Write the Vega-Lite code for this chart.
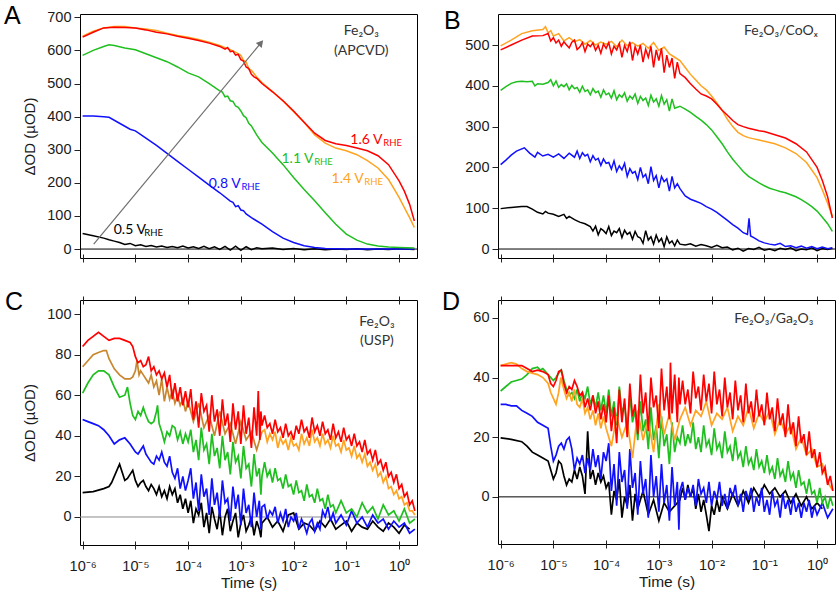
{
"$schema":"https://vega.github.io/schema/vega-lite/v6.json",
"background":"white",
"padding":{"left":3,"top":3,"right":0,"bottom":0},
"bounds":"flush",
"columns":2,
"spacing":{"row":42,"column":81},
"resolve":{"scale":{"x":"independent","y":"independent"}},
"config":{
 "view":{"stroke":"#000","strokeWidth":1},
 "axis":{"grid":false,"domain":false,"labelFont":"Liberation Sans","labelFontSize":14.5,"labelColor":"#1a1a1a","titleFont":"Liberation Sans","titleFontSize":15,"titleFontWeight":"normal","titleColor":"#1a1a1a","tickColor":"#222","tickSize":6,"labelPadding":3,"titlePadding":9},
 "title":{"anchor":"start","frame":"group","font":"Liberation Sans","fontSize":25,"fontWeight":"normal","color":"#000","baseline":"alphabetic"}
},
"datasets":{
"A":[
{"s":"0.5","lt":-6,"v":47},{"s":"0.5","lt":-5.8,"v":40},{"s":"0.5","lt":-5.6,"v":33},{"s":"0.5","lt":-5.5,"v":28},{"s":"0.5","lt":-5.4,"v":24},{"s":"0.5","lt":-5.3,"v":20},{"s":"0.5","lt":-5.2,"v":14},{"s":"0.5","lt":-5.1,"v":17},{"s":"0.5","lt":-5,"v":10},{"s":"0.5","lt":-4.9,"v":13},{"s":"0.5","lt":-4.8,"v":8},{"s":"0.5","lt":-4.7,"v":11},{"s":"0.5","lt":-4.6,"v":6},{"s":"0.5","lt":-4.5,"v":9},{"s":"0.5","lt":-4.4,"v":5},{"s":"0.5","lt":-4.3,"v":8},{"s":"0.5","lt":-4.2,"v":4},{"s":"0.5","lt":-4.1,"v":9},{"s":"0.5","lt":-4,"v":3},{"s":"0.5","lt":-3.9,"v":7},{"s":"0.5","lt":-3.8,"v":2},{"s":"0.5","lt":-3.7,"v":8},{"s":"0.5","lt":-3.6,"v":1},{"s":"0.5","lt":-3.5,"v":7},{"s":"0.5","lt":-3.4,"v":-1},{"s":"0.5","lt":-3.3,"v":8},{"s":"0.5","lt":-3.2,"v":-3},{"s":"0.5","lt":-3.1,"v":9},{"s":"0.5","lt":-3,"v":-4},{"s":"0.5","lt":-2.9,"v":7},{"s":"0.5","lt":-2.8,"v":-2},{"s":"0.5","lt":-2.7,"v":4},{"s":"0.5","lt":-2.6,"v":1},{"s":"0.5","lt":-2.4,"v":3},{"s":"0.5","lt":-2.2,"v":-1},{"s":"0.5","lt":-2,"v":2},{"s":"0.5","lt":-1.8,"v":-2},{"s":"0.5","lt":-1.6,"v":1},{"s":"0.5","lt":-1.4,"v":-2},{"s":"0.5","lt":-1.2,"v":0},{"s":"0.5","lt":-1,"v":-1},{"s":"0.5","lt":-0.8,"v":1},{"s":"0.5","lt":-0.6,"v":-2},{"s":"0.5","lt":-0.4,"v":0},{"s":"0.5","lt":-0.2,"v":-1},{"s":"0.5","lt":0,"v":1},{"s":"0.5","lt":0.29,"v":-1},
{"s":"0.8","lt":-6,"v":402},{"s":"0.8","lt":-5.8,"v":402},{"s":"0.8","lt":-5.6,"v":400},{"s":"0.8","lt":-5.5,"v":398},{"s":"0.8","lt":-5.3,"v":380},{"s":"0.8","lt":-5.1,"v":362},{"s":"0.8","lt":-5,"v":357},{"s":"0.8","lt":-4.8,"v":335},{"s":"0.8","lt":-4.6,"v":313},{"s":"0.8","lt":-4.4,"v":289},{"s":"0.8","lt":-4.2,"v":265},{"s":"0.8","lt":-4,"v":241},{"s":"0.8","lt":-3.8,"v":217},{"s":"0.8","lt":-3.6,"v":193},{"s":"0.8","lt":-3.4,"v":170},{"s":"0.8","lt":-3.2,"v":145},{"s":"0.8","lt":-3.15,"v":141},{"s":"0.8","lt":-3.1,"v":128},{"s":"0.8","lt":-3.05,"v":131},{"s":"0.8","lt":-3,"v":118},{"s":"0.8","lt":-2.95,"v":116},{"s":"0.8","lt":-2.9,"v":106},{"s":"0.8","lt":-2.8,"v":95},{"s":"0.8","lt":-2.6,"v":75},{"s":"0.8","lt":-2.4,"v":53},{"s":"0.8","lt":-2.2,"v":33},{"s":"0.8","lt":-2,"v":20},{"s":"0.8","lt":-1.8,"v":10},{"s":"0.8","lt":-1.6,"v":5},{"s":"0.8","lt":-1.4,"v":2},{"s":"0.8","lt":-1,"v":0},{"s":"0.8","lt":-0.5,"v":0},{"s":"0.8","lt":0,"v":0},{"s":"0.8","lt":0.29,"v":0},
{"s":"1.1","lt":-6,"v":585},{"s":"1.1","lt":-5.8,"v":600},{"s":"1.1","lt":-5.6,"v":612},{"s":"1.1","lt":-5.5,"v":617},{"s":"1.1","lt":-5.4,"v":615},{"s":"1.1","lt":-5.2,"v":607},{"s":"1.1","lt":-5,"v":602},{"s":"1.1","lt":-4.8,"v":590},{"s":"1.1","lt":-4.6,"v":578},{"s":"1.1","lt":-4.4,"v":566},{"s":"1.1","lt":-4.2,"v":550},{"s":"1.1","lt":-4,"v":532},{"s":"1.1","lt":-3.8,"v":520},{"s":"1.1","lt":-3.6,"v":500},{"s":"1.1","lt":-3.4,"v":478},{"s":"1.1","lt":-3.35,"v":474},{"s":"1.1","lt":-3.3,"v":460},{"s":"1.1","lt":-3.25,"v":462},{"s":"1.1","lt":-3.2,"v":448},{"s":"1.1","lt":-3.15,"v":446},{"s":"1.1","lt":-3.1,"v":432},{"s":"1.1","lt":-3.05,"v":428},{"s":"1.1","lt":-3,"v":417},{"s":"1.1","lt":-2.95,"v":403},{"s":"1.1","lt":-2.9,"v":397},{"s":"1.1","lt":-2.85,"v":380},{"s":"1.1","lt":-2.8,"v":372},{"s":"1.1","lt":-2.7,"v":345},{"s":"1.1","lt":-2.6,"v":322},{"s":"1.1","lt":-2.4,"v":290},{"s":"1.1","lt":-2.2,"v":255},{"s":"1.1","lt":-2,"v":216},{"s":"1.1","lt":-1.8,"v":180},{"s":"1.1","lt":-1.6,"v":146},{"s":"1.1","lt":-1.4,"v":110},{"s":"1.1","lt":-1.2,"v":75},{"s":"1.1","lt":-1,"v":45},{"s":"1.1","lt":-0.8,"v":27},{"s":"1.1","lt":-0.6,"v":15},{"s":"1.1","lt":-0.4,"v":9},{"s":"1.1","lt":-0.2,"v":6},{"s":"1.1","lt":0,"v":5},{"s":"1.1","lt":0.29,"v":3},
{"s":"1.4","lt":-6,"v":643},{"s":"1.4","lt":-5.8,"v":658},{"s":"1.4","lt":-5.6,"v":668},{"s":"1.4","lt":-5.4,"v":672},{"s":"1.4","lt":-5.2,"v":672},{"s":"1.4","lt":-5,"v":668},{"s":"1.4","lt":-4.8,"v":665},{"s":"1.4","lt":-4.6,"v":660},{"s":"1.4","lt":-4.4,"v":652},{"s":"1.4","lt":-4.2,"v":645},{"s":"1.4","lt":-4,"v":640},{"s":"1.4","lt":-3.8,"v":633},{"s":"1.4","lt":-3.6,"v":625},{"s":"1.4","lt":-3.4,"v":615},{"s":"1.4","lt":-3.2,"v":602},{"s":"1.4","lt":-3.1,"v":595},{"s":"1.4","lt":-3,"v":585},{"s":"1.4","lt":-2.95,"v":570},{"s":"1.4","lt":-2.9,"v":565},{"s":"1.4","lt":-2.85,"v":545},{"s":"1.4","lt":-2.8,"v":540},{"s":"1.4","lt":-2.7,"v":520},{"s":"1.4","lt":-2.6,"v":503},{"s":"1.4","lt":-2.4,"v":476},{"s":"1.4","lt":-2.2,"v":447},{"s":"1.4","lt":-2,"v":415},{"s":"1.4","lt":-1.8,"v":382},{"s":"1.4","lt":-1.6,"v":345},{"s":"1.4","lt":-1.4,"v":320},{"s":"1.4","lt":-1.2,"v":305},{"s":"1.4","lt":-1,"v":297},{"s":"1.4","lt":-0.8,"v":285},{"s":"1.4","lt":-0.6,"v":267},{"s":"1.4","lt":-0.4,"v":245},{"s":"1.4","lt":-0.2,"v":210},{"s":"1.4","lt":0,"v":156},{"s":"1.4","lt":0.1,"v":125},{"s":"1.4","lt":0.2,"v":95},{"s":"1.4","lt":0.29,"v":65},
{"s":"1.6","lt":-6,"v":640},{"s":"1.6","lt":-5.8,"v":655},{"s":"1.6","lt":-5.6,"v":668},{"s":"1.6","lt":-5.4,"v":670},{"s":"1.6","lt":-5.2,"v":669},{"s":"1.6","lt":-5,"v":668},{"s":"1.6","lt":-4.8,"v":662},{"s":"1.6","lt":-4.6,"v":655},{"s":"1.6","lt":-4.4,"v":650},{"s":"1.6","lt":-4.2,"v":643},{"s":"1.6","lt":-4,"v":637},{"s":"1.6","lt":-3.8,"v":630},{"s":"1.6","lt":-3.6,"v":622},{"s":"1.6","lt":-3.4,"v":612},{"s":"1.6","lt":-3.3,"v":604},{"s":"1.6","lt":-3.25,"v":609},{"s":"1.6","lt":-3.2,"v":596},{"s":"1.6","lt":-3.15,"v":598},{"s":"1.6","lt":-3.1,"v":586},{"s":"1.6","lt":-3.05,"v":588},{"s":"1.6","lt":-3,"v":572},{"s":"1.6","lt":-2.95,"v":568},{"s":"1.6","lt":-2.9,"v":550},{"s":"1.6","lt":-2.85,"v":545},{"s":"1.6","lt":-2.8,"v":528},{"s":"1.6","lt":-2.75,"v":520},{"s":"1.6","lt":-2.7,"v":516},{"s":"1.6","lt":-2.6,"v":500},{"s":"1.6","lt":-2.4,"v":475},{"s":"1.6","lt":-2.2,"v":448},{"s":"1.6","lt":-2,"v":417},{"s":"1.6","lt":-1.8,"v":383},{"s":"1.6","lt":-1.6,"v":350},{"s":"1.6","lt":-1.4,"v":328},{"s":"1.6","lt":-1.2,"v":318},{"s":"1.6","lt":-1,"v":313},{"s":"1.6","lt":-0.8,"v":305},{"s":"1.6","lt":-0.6,"v":297},{"s":"1.6","lt":-0.4,"v":282},{"s":"1.6","lt":-0.2,"v":255},{"s":"1.6","lt":0,"v":206},{"s":"1.6","lt":0.1,"v":175},{"s":"1.6","lt":0.2,"v":135},{"s":"1.6","lt":0.29,"v":85}
],
"labA":[
{"s":"0.5","lt":-5.41,"v":45,"text":"0.5 V"},{"s":"0.8","lt":-3.61,"v":184,"text":"0.8 V"},{"s":"1.1","lt":-2.23,"v":259,"text":"1.1 V"},{"s":"1.4","lt":-1.28,"v":199,"text":"1.4 V"},{"s":"1.6","lt":-0.924,"v":316,"text":"1.6 V"}
],
"subA":[
{"s":"0.5","lt":-4.83,"v":40,"text":"RHE"},{"s":"0.8","lt":-2.99,"v":179,"text":"RHE"},{"s":"1.1","lt":-1.61,"v":254,"text":"RHE"},{"s":"1.4","lt":-0.66,"v":194,"text":"RHE"},{"s":"1.6","lt":-0.3,"v":310,"text":"RHE"}
],
"B":[
{"s":"0.5","lt":-6,"v":99},{"s":"0.5","lt":-5.8,"v":102},{"s":"0.5","lt":-5.6,"v":104},{"s":"0.5","lt":-5.5,"v":104},{"s":"0.5","lt":-5.4,"v":98},{"s":"0.5","lt":-5.3,"v":90},{"s":"0.5","lt":-5.2,"v":86},{"s":"0.5","lt":-5.15,"v":92},{"s":"0.5","lt":-5.1,"v":88},{"s":"0.5","lt":-5,"v":85},{"s":"0.5","lt":-4.9,"v":80},{"s":"0.5","lt":-4.8,"v":85},{"s":"0.5","lt":-4.75,"v":75},{"s":"0.5","lt":-4.7,"v":80},{"s":"0.5","lt":-4.6,"v":72},{"s":"0.5","lt":-4.5,"v":66},{"s":"0.5","lt":-4.4,"v":62},{"s":"0.5","lt":-4.3,"v":55},{"s":"0.5","lt":-4.25,"v":44},{"s":"0.5","lt":-4.2,"v":56},{"s":"0.5","lt":-4.15,"v":35},{"s":"0.5","lt":-4.1,"v":50},{"s":"0.5","lt":-4.05,"v":45},{"s":"0.5","lt":-4,"v":38},{"s":"0.5","lt":-3.95,"v":55},{"s":"0.5","lt":-3.9,"v":33},{"s":"0.5","lt":-3.85,"v":44},{"s":"0.5","lt":-3.8,"v":40},{"s":"0.5","lt":-3.75,"v":50},{"s":"0.5","lt":-3.7,"v":28},{"s":"0.5","lt":-3.65,"v":46},{"s":"0.5","lt":-3.6,"v":36},{"s":"0.5","lt":-3.55,"v":41},{"s":"0.5","lt":-3.5,"v":24},{"s":"0.5","lt":-3.45,"v":43},{"s":"0.5","lt":-3.4,"v":30},{"s":"0.5","lt":-3.35,"v":27},{"s":"0.5","lt":-3.3,"v":14},{"s":"0.5","lt":-3.25,"v":45},{"s":"0.5","lt":-3.2,"v":22},{"s":"0.5","lt":-3.15,"v":30},{"s":"0.5","lt":-3.1,"v":12},{"s":"0.5","lt":-3.05,"v":34},{"s":"0.5","lt":-3,"v":18},{"s":"0.5","lt":-2.95,"v":26},{"s":"0.5","lt":-2.9,"v":6},{"s":"0.5","lt":-2.85,"v":30},{"s":"0.5","lt":-2.8,"v":14},{"s":"0.5","lt":-2.75,"v":20},{"s":"0.5","lt":-2.7,"v":8},{"s":"0.5","lt":-2.65,"v":22},{"s":"0.5","lt":-2.6,"v":12},{"s":"0.5","lt":-2.5,"v":10},{"s":"0.5","lt":-2.4,"v":13},{"s":"0.5","lt":-2.3,"v":7},{"s":"0.5","lt":-2.2,"v":11},{"s":"0.5","lt":-2.1,"v":8},{"s":"0.5","lt":-2,"v":4},{"s":"0.5","lt":-1.9,"v":9},{"s":"0.5","lt":-1.8,"v":3},{"s":"0.5","lt":-1.7,"v":5},{"s":"0.5","lt":-1.6,"v":-2},{"s":"0.5","lt":-1.5,"v":2},{"s":"0.5","lt":-1.4,"v":-5},{"s":"0.5","lt":-1.3,"v":1},{"s":"0.5","lt":-1.2,"v":-1},{"s":"0.5","lt":-1.1,"v":4},{"s":"0.5","lt":-1,"v":-3},{"s":"0.5","lt":-0.9,"v":0},{"s":"0.5","lt":-0.8,"v":-4},{"s":"0.5","lt":-0.7,"v":2},{"s":"0.5","lt":-0.6,"v":-1},{"s":"0.5","lt":-0.5,"v":3},{"s":"0.5","lt":-0.4,"v":-4},{"s":"0.5","lt":-0.3,"v":0},{"s":"0.5","lt":-0.2,"v":-2},{"s":"0.5","lt":-0.1,"v":3},{"s":"0.5","lt":0,"v":-4},{"s":"0.5","lt":0.1,"v":1},{"s":"0.5","lt":0.2,"v":-1},{"s":"0.5","lt":0.29,"v":2},
{"s":"0.8","lt":-6,"v":207},{"s":"0.8","lt":-5.9,"v":218},{"s":"0.8","lt":-5.8,"v":230},{"s":"0.8","lt":-5.7,"v":240},{"s":"0.8","lt":-5.55,"v":248},{"s":"0.8","lt":-5.45,"v":235},{"s":"0.8","lt":-5.35,"v":225},{"s":"0.8","lt":-5.3,"v":237},{"s":"0.8","lt":-5.2,"v":228},{"s":"0.8","lt":-5.1,"v":232},{"s":"0.8","lt":-5,"v":225},{"s":"0.8","lt":-4.9,"v":233},{"s":"0.8","lt":-4.8,"v":222},{"s":"0.8","lt":-4.7,"v":235},{"s":"0.8","lt":-4.6,"v":225},{"s":"0.8","lt":-4.55,"v":240},{"s":"0.8","lt":-4.5,"v":222},{"s":"0.8","lt":-4.45,"v":236},{"s":"0.8","lt":-4.4,"v":228},{"s":"0.8","lt":-4.35,"v":232},{"s":"0.8","lt":-4.3,"v":214},{"s":"0.8","lt":-4.25,"v":229},{"s":"0.8","lt":-4.2,"v":218},{"s":"0.8","lt":-4.15,"v":222},{"s":"0.8","lt":-4.1,"v":205},{"s":"0.8","lt":-4.05,"v":221},{"s":"0.8","lt":-4,"v":210},{"s":"0.8","lt":-3.95,"v":212},{"s":"0.8","lt":-3.9,"v":196},{"s":"0.8","lt":-3.85,"v":216},{"s":"0.8","lt":-3.8,"v":190},{"s":"0.8","lt":-3.75,"v":204},{"s":"0.8","lt":-3.7,"v":194},{"s":"0.8","lt":-3.65,"v":210},{"s":"0.8","lt":-3.6,"v":178},{"s":"0.8","lt":-3.55,"v":197},{"s":"0.8","lt":-3.5,"v":186},{"s":"0.8","lt":-3.45,"v":190},{"s":"0.8","lt":-3.4,"v":170},{"s":"0.8","lt":-3.35,"v":200},{"s":"0.8","lt":-3.3,"v":176},{"s":"0.8","lt":-3.25,"v":183},{"s":"0.8","lt":-3.2,"v":160},{"s":"0.8","lt":-3.15,"v":202},{"s":"0.8","lt":-3.1,"v":168},{"s":"0.8","lt":-3.05,"v":180},{"s":"0.8","lt":-3,"v":150},{"s":"0.8","lt":-2.95,"v":178},{"s":"0.8","lt":-2.9,"v":165},{"s":"0.8","lt":-2.85,"v":172},{"s":"0.8","lt":-2.8,"v":142},{"s":"0.8","lt":-2.75,"v":178},{"s":"0.8","lt":-2.7,"v":150},{"s":"0.8","lt":-2.65,"v":160},{"s":"0.8","lt":-2.6,"v":148},{"s":"0.8","lt":-2.5,"v":130},{"s":"0.8","lt":-2.4,"v":122},{"s":"0.8","lt":-2.3,"v":117},{"s":"0.8","lt":-2.2,"v":112},{"s":"0.8","lt":-2.1,"v":104},{"s":"0.8","lt":-2,"v":98},{"s":"0.8","lt":-1.9,"v":90},{"s":"0.8","lt":-1.8,"v":80},{"s":"0.8","lt":-1.7,"v":70},{"s":"0.8","lt":-1.6,"v":60},{"s":"0.8","lt":-1.5,"v":51},{"s":"0.8","lt":-1.4,"v":40},{"s":"0.8","lt":-1.32,"v":36},{"s":"0.8","lt":-1.29,"v":75},{"s":"0.8","lt":-1.26,"v":32},{"s":"0.8","lt":-1.2,"v":28},{"s":"0.8","lt":-1.1,"v":20},{"s":"0.8","lt":-1,"v":15},{"s":"0.8","lt":-0.9,"v":12},{"s":"0.8","lt":-0.8,"v":10},{"s":"0.8","lt":-0.7,"v":14},{"s":"0.8","lt":-0.6,"v":6},{"s":"0.8","lt":-0.5,"v":8},{"s":"0.8","lt":-0.4,"v":3},{"s":"0.8","lt":-0.3,"v":7},{"s":"0.8","lt":-0.2,"v":2},{"s":"0.8","lt":-0.1,"v":6},{"s":"0.8","lt":0,"v":1},{"s":"0.8","lt":0.1,"v":5},{"s":"0.8","lt":0.2,"v":1},{"s":"0.8","lt":0.29,"v":3},
{"s":"1.1","lt":-6,"v":389},{"s":"1.1","lt":-5.9,"v":398},{"s":"1.1","lt":-5.8,"v":406},{"s":"1.1","lt":-5.7,"v":410},{"s":"1.1","lt":-5.6,"v":411},{"s":"1.1","lt":-5.5,"v":410},{"s":"1.1","lt":-5.4,"v":411},{"s":"1.1","lt":-5.35,"v":400},{"s":"1.1","lt":-5.3,"v":405},{"s":"1.1","lt":-5.2,"v":404},{"s":"1.1","lt":-5.1,"v":408},{"s":"1.1","lt":-5.05,"v":415},{"s":"1.1","lt":-5,"v":400},{"s":"1.1","lt":-4.95,"v":412},{"s":"1.1","lt":-4.9,"v":396},{"s":"1.1","lt":-4.85,"v":403},{"s":"1.1","lt":-4.8,"v":398},{"s":"1.1","lt":-4.75,"v":405},{"s":"1.1","lt":-4.7,"v":390},{"s":"1.1","lt":-4.65,"v":401},{"s":"1.1","lt":-4.6,"v":393},{"s":"1.1","lt":-4.55,"v":396},{"s":"1.1","lt":-4.5,"v":384},{"s":"1.1","lt":-4.45,"v":399},{"s":"1.1","lt":-4.4,"v":386},{"s":"1.1","lt":-4.35,"v":390},{"s":"1.1","lt":-4.3,"v":378},{"s":"1.1","lt":-4.25,"v":393},{"s":"1.1","lt":-4.2,"v":383},{"s":"1.1","lt":-4.15,"v":387},{"s":"1.1","lt":-4.1,"v":372},{"s":"1.1","lt":-4.05,"v":390},{"s":"1.1","lt":-4,"v":378},{"s":"1.1","lt":-3.95,"v":382},{"s":"1.1","lt":-3.9,"v":370},{"s":"1.1","lt":-3.85,"v":388},{"s":"1.1","lt":-3.8,"v":366},{"s":"1.1","lt":-3.75,"v":378},{"s":"1.1","lt":-3.7,"v":372},{"s":"1.1","lt":-3.65,"v":383},{"s":"1.1","lt":-3.6,"v":362},{"s":"1.1","lt":-3.55,"v":375},{"s":"1.1","lt":-3.5,"v":368},{"s":"1.1","lt":-3.45,"v":380},{"s":"1.1","lt":-3.4,"v":357},{"s":"1.1","lt":-3.35,"v":374},{"s":"1.1","lt":-3.3,"v":364},{"s":"1.1","lt":-3.25,"v":370},{"s":"1.1","lt":-3.2,"v":352},{"s":"1.1","lt":-3.15,"v":377},{"s":"1.1","lt":-3.1,"v":360},{"s":"1.1","lt":-3.05,"v":368},{"s":"1.1","lt":-3,"v":350},{"s":"1.1","lt":-2.95,"v":376},{"s":"1.1","lt":-2.9,"v":355},{"s":"1.1","lt":-2.85,"v":366},{"s":"1.1","lt":-2.8,"v":338},{"s":"1.1","lt":-2.75,"v":368},{"s":"1.1","lt":-2.7,"v":345},{"s":"1.1","lt":-2.6,"v":350},{"s":"1.1","lt":-2.5,"v":343},{"s":"1.1","lt":-2.4,"v":335},{"s":"1.1","lt":-2.3,"v":325},{"s":"1.1","lt":-2.2,"v":316},{"s":"1.1","lt":-2.1,"v":305},{"s":"1.1","lt":-2,"v":292},{"s":"1.1","lt":-1.9,"v":275},{"s":"1.1","lt":-1.8,"v":258},{"s":"1.1","lt":-1.7,"v":238},{"s":"1.1","lt":-1.6,"v":220},{"s":"1.1","lt":-1.5,"v":205},{"s":"1.1","lt":-1.4,"v":190},{"s":"1.1","lt":-1.3,"v":178},{"s":"1.1","lt":-1.2,"v":170},{"s":"1.1","lt":-1.1,"v":162},{"s":"1.1","lt":-1,"v":155},{"s":"1.1","lt":-0.9,"v":149},{"s":"1.1","lt":-0.8,"v":145},{"s":"1.1","lt":-0.7,"v":141},{"s":"1.1","lt":-0.6,"v":138},{"s":"1.1","lt":-0.5,"v":133},{"s":"1.1","lt":-0.4,"v":128},{"s":"1.1","lt":-0.3,"v":121},{"s":"1.1","lt":-0.2,"v":113},{"s":"1.1","lt":-0.1,"v":104},{"s":"1.1","lt":0,"v":93},{"s":"1.1","lt":0.1,"v":78},{"s":"1.1","lt":0.2,"v":62},{"s":"1.1","lt":0.29,"v":43},
{"s":"1.4","lt":-6,"v":498},{"s":"1.4","lt":-5.8,"v":512},{"s":"1.4","lt":-5.6,"v":528},{"s":"1.4","lt":-5.4,"v":535},{"s":"1.4","lt":-5.2,"v":538},{"s":"1.4","lt":-5.15,"v":545},{"s":"1.4","lt":-5.1,"v":530},{"s":"1.4","lt":-5.05,"v":535},{"s":"1.4","lt":-5,"v":522},{"s":"1.4","lt":-4.9,"v":528},{"s":"1.4","lt":-4.8,"v":510},{"s":"1.4","lt":-4.7,"v":518},{"s":"1.4","lt":-4.6,"v":508},{"s":"1.4","lt":-4.5,"v":513},{"s":"1.4","lt":-4.4,"v":502},{"s":"1.4","lt":-4.3,"v":511},{"s":"1.4","lt":-4.2,"v":500},{"s":"1.4","lt":-4.1,"v":507},{"s":"1.4","lt":-4,"v":502},{"s":"1.4","lt":-3.9,"v":509},{"s":"1.4","lt":-3.8,"v":496},{"s":"1.4","lt":-3.7,"v":512},{"s":"1.4","lt":-3.6,"v":498},{"s":"1.4","lt":-3.5,"v":506},{"s":"1.4","lt":-3.4,"v":497},{"s":"1.4","lt":-3.3,"v":504},{"s":"1.4","lt":-3.2,"v":492},{"s":"1.4","lt":-3.1,"v":506},{"s":"1.4","lt":-3,"v":487},{"s":"1.4","lt":-2.9,"v":495},{"s":"1.4","lt":-2.8,"v":478},{"s":"1.4","lt":-2.7,"v":470},{"s":"1.4","lt":-2.6,"v":462},{"s":"1.4","lt":-2.5,"v":445},{"s":"1.4","lt":-2.4,"v":428},{"s":"1.4","lt":-2.3,"v":414},{"s":"1.4","lt":-2.2,"v":400},{"s":"1.4","lt":-2.1,"v":390},{"s":"1.4","lt":-2,"v":375},{"s":"1.4","lt":-1.9,"v":358},{"s":"1.4","lt":-1.8,"v":340},{"s":"1.4","lt":-1.7,"v":318},{"s":"1.4","lt":-1.6,"v":300},{"s":"1.4","lt":-1.5,"v":286},{"s":"1.4","lt":-1.4,"v":278},{"s":"1.4","lt":-1.3,"v":273},{"s":"1.4","lt":-1.2,"v":270},{"s":"1.4","lt":-1.1,"v":267},{"s":"1.4","lt":-1,"v":264},{"s":"1.4","lt":-0.8,"v":258},{"s":"1.4","lt":-0.6,"v":248},{"s":"1.4","lt":-0.4,"v":234},{"s":"1.4","lt":-0.2,"v":212},{"s":"1.4","lt":0,"v":175},{"s":"1.4","lt":0.1,"v":145},{"s":"1.4","lt":0.2,"v":112},{"s":"1.4","lt":0.29,"v":80},
{"s":"1.6","lt":-6,"v":488},{"s":"1.6","lt":-5.8,"v":500},{"s":"1.6","lt":-5.6,"v":512},{"s":"1.6","lt":-5.4,"v":522},{"s":"1.6","lt":-5.2,"v":523},{"s":"1.6","lt":-5.1,"v":528},{"s":"1.6","lt":-5.05,"v":510},{"s":"1.6","lt":-5,"v":518},{"s":"1.6","lt":-4.95,"v":505},{"s":"1.6","lt":-4.9,"v":512},{"s":"1.6","lt":-4.85,"v":497},{"s":"1.6","lt":-4.8,"v":508},{"s":"1.6","lt":-4.75,"v":500},{"s":"1.6","lt":-4.7,"v":493},{"s":"1.6","lt":-4.65,"v":507},{"s":"1.6","lt":-4.6,"v":512},{"s":"1.6","lt":-4.55,"v":489},{"s":"1.6","lt":-4.5,"v":495},{"s":"1.6","lt":-4.45,"v":506},{"s":"1.6","lt":-4.4,"v":484},{"s":"1.6","lt":-4.35,"v":502},{"s":"1.6","lt":-4.3,"v":496},{"s":"1.6","lt":-4.25,"v":505},{"s":"1.6","lt":-4.2,"v":487},{"s":"1.6","lt":-4.15,"v":499},{"s":"1.6","lt":-4.1,"v":480},{"s":"1.6","lt":-4.05,"v":503},{"s":"1.6","lt":-4,"v":492},{"s":"1.6","lt":-3.95,"v":506},{"s":"1.6","lt":-3.9,"v":478},{"s":"1.6","lt":-3.85,"v":497},{"s":"1.6","lt":-3.8,"v":488},{"s":"1.6","lt":-3.75,"v":504},{"s":"1.6","lt":-3.7,"v":470},{"s":"1.6","lt":-3.65,"v":499},{"s":"1.6","lt":-3.6,"v":484},{"s":"1.6","lt":-3.55,"v":508},{"s":"1.6","lt":-3.5,"v":462},{"s":"1.6","lt":-3.45,"v":496},{"s":"1.6","lt":-3.4,"v":478},{"s":"1.6","lt":-3.35,"v":500},{"s":"1.6","lt":-3.3,"v":458},{"s":"1.6","lt":-3.25,"v":490},{"s":"1.6","lt":-3.2,"v":470},{"s":"1.6","lt":-3.15,"v":497},{"s":"1.6","lt":-3.1,"v":445},{"s":"1.6","lt":-3.05,"v":488},{"s":"1.6","lt":-3,"v":462},{"s":"1.6","lt":-2.95,"v":492},{"s":"1.6","lt":-2.9,"v":432},{"s":"1.6","lt":-2.85,"v":475},{"s":"1.6","lt":-2.8,"v":445},{"s":"1.6","lt":-2.75,"v":468},{"s":"1.6","lt":-2.7,"v":418},{"s":"1.6","lt":-2.65,"v":458},{"s":"1.6","lt":-2.6,"v":430},{"s":"1.6","lt":-2.5,"v":420},{"s":"1.6","lt":-2.4,"v":405},{"s":"1.6","lt":-2.3,"v":392},{"s":"1.6","lt":-2.2,"v":380},{"s":"1.6","lt":-2.1,"v":375},{"s":"1.6","lt":-2,"v":368},{"s":"1.6","lt":-1.9,"v":355},{"s":"1.6","lt":-1.8,"v":340},{"s":"1.6","lt":-1.7,"v":328},{"s":"1.6","lt":-1.6,"v":315},{"s":"1.6","lt":-1.5,"v":305},{"s":"1.6","lt":-1.4,"v":300},{"s":"1.6","lt":-1.3,"v":296},{"s":"1.6","lt":-1.2,"v":293},{"s":"1.6","lt":-1.1,"v":290},{"s":"1.6","lt":-1,"v":288},{"s":"1.6","lt":-0.8,"v":280},{"s":"1.6","lt":-0.6,"v":272},{"s":"1.6","lt":-0.4,"v":258},{"s":"1.6","lt":-0.2,"v":238},{"s":"1.6","lt":0,"v":200},{"s":"1.6","lt":0.1,"v":168},{"s":"1.6","lt":0.2,"v":128},{"s":"1.6","lt":0.29,"v":76}
],
"C":[
{"s":"0.5","lt":-6,"v":12},{"s":"0.5","lt":-5.8,"v":12.5},{"s":"0.5","lt":-5.6,"v":14},{"s":"0.5","lt":-5.5,"v":15},{"s":"0.5","lt":-5.45,"v":17},{"s":"0.5","lt":-5.4,"v":20},{"s":"0.5","lt":-5.3,"v":26},{"s":"0.5","lt":-5.25,"v":22},{"s":"0.5","lt":-5.2,"v":18},{"s":"0.5","lt":-5.15,"v":19},{"s":"0.5","lt":-5.1,"v":21},{"s":"0.5","lt":-5.05,"v":23},{"s":"0.5","lt":-5,"v":18},{"s":"0.5","lt":-4.95,"v":15},{"s":"0.5","lt":-4.9,"v":17},{"s":"0.5","lt":-4.85,"v":18},{"s":"0.5","lt":-4.8,"v":15},{"s":"0.5","lt":-4.75,"v":13},{"s":"0.5","lt":-4.7,"v":16},{"s":"0.5","lt":-4.65,"v":14},{"s":"0.5","lt":-4.6,"v":11},{"s":"0.5","lt":-4.55,"v":15},{"s":"0.5","lt":-4.5,"v":10},{"s":"0.5","lt":-4.45,"v":13},{"s":"0.5","lt":-4.4,"v":9},{"s":"0.5","lt":-4.35,"v":15},{"s":"0.5","lt":-4.3,"v":11},{"s":"0.5","lt":-4.25,"v":14},{"s":"0.5","lt":-4.2,"v":7},{"s":"0.5","lt":-4.15,"v":11},{"s":"0.5","lt":-4.1,"v":4},{"s":"0.5","lt":-4.05,"v":9},{"s":"0.5","lt":-4,"v":2},{"s":"0.5","lt":-3.95,"v":8},{"s":"0.5","lt":-3.9,"v":-3},{"s":"0.5","lt":-3.85,"v":4},{"s":"0.5","lt":-3.8,"v":1},{"s":"0.5","lt":-3.75,"v":7},{"s":"0.5","lt":-3.7,"v":-5},{"s":"0.5","lt":-3.65,"v":2},{"s":"0.5","lt":-3.6,"v":-8},{"s":"0.5","lt":-3.55,"v":5},{"s":"0.5","lt":-3.5,"v":-1},{"s":"0.5","lt":-3.45,"v":-6},{"s":"0.5","lt":-3.4,"v":3},{"s":"0.5","lt":-3.35,"v":-9},{"s":"0.5","lt":-3.3,"v":0},{"s":"0.5","lt":-3.25,"v":4},{"s":"0.5","lt":-3.2,"v":-7},{"s":"0.5","lt":-3.15,"v":-2},{"s":"0.5","lt":-3.1,"v":2},{"s":"0.5","lt":-3.05,"v":-10},{"s":"0.5","lt":-3,"v":-3},{"s":"0.5","lt":-2.95,"v":1},{"s":"0.5","lt":-2.9,"v":-7},{"s":"0.5","lt":-2.85,"v":-4},{"s":"0.5","lt":-2.8,"v":0},{"s":"0.5","lt":-2.75,"v":-9},{"s":"0.5","lt":-2.7,"v":-2},{"s":"0.5","lt":-2.65,"v":-6},{"s":"0.5","lt":-2.62,"v":-10},{"s":"0.5","lt":-2.6,"v":-3},{"s":"0.5","lt":-2.5,"v":0},{"s":"0.5","lt":-2.4,"v":-5},{"s":"0.5","lt":-2.3,"v":-2},{"s":"0.5","lt":-2.2,"v":-7},{"s":"0.5","lt":-2.1,"v":1},{"s":"0.5","lt":-2,"v":2},{"s":"0.5","lt":-1.9,"v":-6},{"s":"0.5","lt":-1.8,"v":-3},{"s":"0.5","lt":-1.7,"v":-4},{"s":"0.5","lt":-1.6,"v":-7},{"s":"0.5","lt":-1.5,"v":-2},{"s":"0.5","lt":-1.4,"v":-5},{"s":"0.5","lt":-1.3,"v":-1},{"s":"0.5","lt":-1.2,"v":-6},{"s":"0.5","lt":-1.1,"v":-4},{"s":"0.5","lt":-1,"v":-2},{"s":"0.5","lt":-0.9,"v":-7},{"s":"0.5","lt":-0.8,"v":-3},{"s":"0.5","lt":-0.7,"v":-5},{"s":"0.5","lt":-0.6,"v":-6},{"s":"0.5","lt":-0.5,"v":-2},{"s":"0.5","lt":-0.4,"v":-5},{"s":"0.5","lt":-0.3,"v":-7},{"s":"0.5","lt":-0.2,"v":-3},{"s":"0.5","lt":-0.1,"v":-5},{"s":"0.5","lt":0,"v":-8},{"s":"0.5","lt":0.1,"v":-4},{"s":"0.5","lt":0.2,"v":-6},
{"s":"0.8","lt":-6,"v":48},{"s":"0.8","lt":-5.9,"v":47},{"s":"0.8","lt":-5.8,"v":46},{"s":"0.8","lt":-5.7,"v":45},{"s":"0.8","lt":-5.6,"v":43},{"s":"0.8","lt":-5.5,"v":40},{"s":"0.8","lt":-5.4,"v":36},{"s":"0.8","lt":-5.3,"v":38},{"s":"0.8","lt":-5.2,"v":39},{"s":"0.8","lt":-5.1,"v":36},{"s":"0.8","lt":-5,"v":32},{"s":"0.8","lt":-4.95,"v":31},{"s":"0.8","lt":-4.9,"v":33},{"s":"0.8","lt":-4.85,"v":35},{"s":"0.8","lt":-4.8,"v":31},{"s":"0.8","lt":-4.75,"v":29},{"s":"0.8","lt":-4.7,"v":27},{"s":"0.8","lt":-4.65,"v":26},{"s":"0.8","lt":-4.6,"v":30},{"s":"0.8","lt":-4.55,"v":28},{"s":"0.8","lt":-4.5,"v":32},{"s":"0.8","lt":-4.45,"v":27},{"s":"0.8","lt":-4.4,"v":25},{"s":"0.8","lt":-4.35,"v":30},{"s":"0.8","lt":-4.3,"v":22},{"s":"0.8","lt":-4.25,"v":19},{"s":"0.8","lt":-4.2,"v":24},{"s":"0.8","lt":-4.15,"v":14},{"s":"0.8","lt":-4.1,"v":20},{"s":"0.8","lt":-4.05,"v":13},{"s":"0.8","lt":-4,"v":18},{"s":"0.8","lt":-3.95,"v":24},{"s":"0.8","lt":-3.9,"v":9},{"s":"0.8","lt":-3.85,"v":17},{"s":"0.8","lt":-3.8,"v":3},{"s":"0.8","lt":-3.75,"v":21},{"s":"0.8","lt":-3.7,"v":10},{"s":"0.8","lt":-3.65,"v":14},{"s":"0.8","lt":-3.6,"v":1},{"s":"0.8","lt":-3.55,"v":19},{"s":"0.8","lt":-3.5,"v":6},{"s":"0.8","lt":-3.45,"v":12},{"s":"0.8","lt":-3.4,"v":0},{"s":"0.8","lt":-3.35,"v":18},{"s":"0.8","lt":-3.3,"v":7},{"s":"0.8","lt":-3.25,"v":9},{"s":"0.8","lt":-3.2,"v":-2},{"s":"0.8","lt":-3.15,"v":15},{"s":"0.8","lt":-3.1,"v":4},{"s":"0.8","lt":-3.05,"v":11},{"s":"0.8","lt":-3,"v":-4},{"s":"0.8","lt":-2.95,"v":14},{"s":"0.8","lt":-2.9,"v":2},{"s":"0.8","lt":-2.85,"v":6},{"s":"0.8","lt":-2.8,"v":-5},{"s":"0.8","lt":-2.75,"v":12},{"s":"0.8","lt":-2.7,"v":0},{"s":"0.8","lt":-2.65,"v":8},{"s":"0.8","lt":-2.62,"v":-6},{"s":"0.8","lt":-2.6,"v":5},{"s":"0.8","lt":-2.55,"v":6},{"s":"0.8","lt":-2.5,"v":-1},{"s":"0.8","lt":-2.45,"v":3},{"s":"0.8","lt":-2.4,"v":1},{"s":"0.8","lt":-2.35,"v":5},{"s":"0.8","lt":-2.3,"v":-3},{"s":"0.8","lt":-2.25,"v":2},{"s":"0.8","lt":-2.2,"v":-2},{"s":"0.8","lt":-2.15,"v":4},{"s":"0.8","lt":-2.1,"v":-5},{"s":"0.8","lt":-2.05,"v":0},{"s":"0.8","lt":-2,"v":-2},{"s":"0.8","lt":-1.95,"v":2},{"s":"0.8","lt":-1.9,"v":-6},{"s":"0.8","lt":-1.85,"v":-1},{"s":"0.8","lt":-1.8,"v":-4},{"s":"0.8","lt":-1.75,"v":-8},{"s":"0.8","lt":-1.7,"v":-3},{"s":"0.8","lt":-1.65,"v":-1},{"s":"0.8","lt":-1.6,"v":-7},{"s":"0.8","lt":-1.55,"v":-3},{"s":"0.8","lt":-1.5,"v":-6},{"s":"0.8","lt":-1.45,"v":3},{"s":"0.8","lt":-1.4,"v":0},{"s":"0.8","lt":-1.35,"v":5},{"s":"0.8","lt":-1.3,"v":-2},{"s":"0.8","lt":-1.25,"v":2},{"s":"0.8","lt":-1.2,"v":-3},{"s":"0.8","lt":-1.1,"v":1},{"s":"0.8","lt":-1,"v":-4},{"s":"0.8","lt":-0.9,"v":3},{"s":"0.8","lt":-0.8,"v":-3},{"s":"0.8","lt":-0.7,"v":0},{"s":"0.8","lt":-0.6,"v":-5},{"s":"0.8","lt":-0.5,"v":1},{"s":"0.8","lt":-0.4,"v":-3},{"s":"0.8","lt":-0.3,"v":-1},{"s":"0.8","lt":-0.2,"v":-6},{"s":"0.8","lt":-0.1,"v":-2},{"s":"0.8","lt":0,"v":-5},{"s":"0.8","lt":0.1,"v":-3},{"s":"0.8","lt":0.2,"v":-8},{"s":"0.8","lt":0.3,"v":-6},
{"s":"1.1","lt":-6,"v":61},{"s":"1.1","lt":-5.9,"v":66},{"s":"1.1","lt":-5.8,"v":70},{"s":"1.1","lt":-5.7,"v":72},{"s":"1.1","lt":-5.6,"v":72},{"s":"1.1","lt":-5.5,"v":70},{"s":"1.1","lt":-5.4,"v":64},{"s":"1.1","lt":-5.3,"v":59},{"s":"1.1","lt":-5.2,"v":60},{"s":"1.1","lt":-5.15,"v":64},{"s":"1.1","lt":-5.1,"v":56},{"s":"1.1","lt":-5.05,"v":50},{"s":"1.1","lt":-5,"v":48},{"s":"1.1","lt":-4.95,"v":52},{"s":"1.1","lt":-4.9,"v":50},{"s":"1.1","lt":-4.85,"v":54},{"s":"1.1","lt":-4.8,"v":50},{"s":"1.1","lt":-4.75,"v":47},{"s":"1.1","lt":-4.7,"v":46},{"s":"1.1","lt":-4.65,"v":47},{"s":"1.1","lt":-4.6,"v":52},{"s":"1.1","lt":-4.58,"v":55},{"s":"1.1","lt":-4.55,"v":46},{"s":"1.1","lt":-4.5,"v":42},{"s":"1.1","lt":-4.45,"v":37},{"s":"1.1","lt":-4.4,"v":42},{"s":"1.1","lt":-4.35,"v":40},{"s":"1.1","lt":-4.3,"v":45},{"s":"1.1","lt":-4.25,"v":44},{"s":"1.1","lt":-4.2,"v":38},{"s":"1.1","lt":-4.15,"v":42},{"s":"1.1","lt":-4.1,"v":36},{"s":"1.1","lt":-4.05,"v":41},{"s":"1.1","lt":-4,"v":37},{"s":"1.1","lt":-3.95,"v":43},{"s":"1.1","lt":-3.9,"v":32},{"s":"1.1","lt":-3.85,"v":38},{"s":"1.1","lt":-3.8,"v":28},{"s":"1.1","lt":-3.75,"v":44},{"s":"1.1","lt":-3.7,"v":33},{"s":"1.1","lt":-3.65,"v":36},{"s":"1.1","lt":-3.6,"v":26},{"s":"1.1","lt":-3.55,"v":41},{"s":"1.1","lt":-3.5,"v":30},{"s":"1.1","lt":-3.45,"v":34},{"s":"1.1","lt":-3.4,"v":24},{"s":"1.1","lt":-3.35,"v":40},{"s":"1.1","lt":-3.3,"v":28},{"s":"1.1","lt":-3.25,"v":32},{"s":"1.1","lt":-3.2,"v":21},{"s":"1.1","lt":-3.15,"v":37},{"s":"1.1","lt":-3.1,"v":27},{"s":"1.1","lt":-3.05,"v":30},{"s":"1.1","lt":-3,"v":19},{"s":"1.1","lt":-2.95,"v":35},{"s":"1.1","lt":-2.9,"v":24},{"s":"1.1","lt":-2.85,"v":26},{"s":"1.1","lt":-2.8,"v":15},{"s":"1.1","lt":-2.75,"v":31},{"s":"1.1","lt":-2.7,"v":20},{"s":"1.1","lt":-2.65,"v":24},{"s":"1.1","lt":-2.62,"v":11},{"s":"1.1","lt":-2.6,"v":20},{"s":"1.1","lt":-2.55,"v":27},{"s":"1.1","lt":-2.5,"v":20},{"s":"1.1","lt":-2.45,"v":23},{"s":"1.1","lt":-2.4,"v":17},{"s":"1.1","lt":-2.35,"v":24},{"s":"1.1","lt":-2.3,"v":18},{"s":"1.1","lt":-2.25,"v":19},{"s":"1.1","lt":-2.2,"v":14},{"s":"1.1","lt":-2.15,"v":21},{"s":"1.1","lt":-2.1,"v":15},{"s":"1.1","lt":-2.05,"v":16},{"s":"1.1","lt":-2,"v":11},{"s":"1.1","lt":-1.95,"v":18},{"s":"1.1","lt":-1.9,"v":12},{"s":"1.1","lt":-1.85,"v":13},{"s":"1.1","lt":-1.8,"v":8},{"s":"1.1","lt":-1.75,"v":16},{"s":"1.1","lt":-1.7,"v":10},{"s":"1.1","lt":-1.65,"v":11},{"s":"1.1","lt":-1.6,"v":7},{"s":"1.1","lt":-1.55,"v":14},{"s":"1.1","lt":-1.5,"v":8},{"s":"1.1","lt":-1.45,"v":9},{"s":"1.1","lt":-1.4,"v":4},{"s":"1.1","lt":-1.35,"v":11},{"s":"1.1","lt":-1.3,"v":5},{"s":"1.1","lt":-1.25,"v":6},{"s":"1.1","lt":-1.2,"v":2},{"s":"1.1","lt":-1.1,"v":8},{"s":"1.1","lt":-1,"v":2},{"s":"1.1","lt":-0.9,"v":4},{"s":"1.1","lt":-0.8,"v":0},{"s":"1.1","lt":-0.7,"v":7},{"s":"1.1","lt":-0.6,"v":2},{"s":"1.1","lt":-0.5,"v":5},{"s":"1.1","lt":-0.4,"v":-1},{"s":"1.1","lt":-0.3,"v":6},{"s":"1.1","lt":-0.2,"v":1},{"s":"1.1","lt":-0.1,"v":3},{"s":"1.1","lt":0,"v":-2},{"s":"1.1","lt":0.1,"v":4},{"s":"1.1","lt":0.2,"v":-3},{"s":"1.1","lt":0.3,"v":-1},
{"s":"1.4e","lt":-6,"v":74},{"s":"1.4e","lt":-5.9,"v":77},{"s":"1.4e","lt":-5.8,"v":80},{"s":"1.4e","lt":-5.7,"v":81},{"s":"1.4e","lt":-5.6,"v":82},{"s":"1.4e","lt":-5.55,"v":82},{"s":"1.4e","lt":-5.5,"v":78},{"s":"1.4e","lt":-5.4,"v":73},{"s":"1.4e","lt":-5.3,"v":70},{"s":"1.4e","lt":-5.2,"v":68},{"s":"1.4e","lt":-5.1,"v":68},{"s":"1.4e","lt":-5.05,"v":69},{"s":"1.4e","lt":-5,"v":72},{"s":"1.4e","lt":-4.97,"v":77},{"s":"1.4e","lt":-4.93,"v":70},{"s":"1.4e","lt":-4.9,"v":72},{"s":"1.4e","lt":-4.85,"v":70},{"s":"1.4e","lt":-4.8,"v":68},{"s":"1.4e","lt":-4.75,"v":66},{"s":"1.4e","lt":-4.7,"v":70},{"s":"1.4e","lt":-4.65,"v":64},{"s":"1.4e","lt":-4.6,"v":67},{"s":"1.4e","lt":-4.55,"v":60},{"s":"1.4e","lt":-4.5,"v":68},{"s":"1.4e","lt":-4.45,"v":57},{"s":"1.4e","lt":-4.4,"v":64},{"s":"1.4e","lt":-4.35,"v":58},{"s":"1.4e","lt":-4.3,"v":62},{"s":"1.4e","lt":-4.25,"v":56},{"s":"1.4e","lt":-4.2,"v":60},{"s":"1.4e","lt":-4.15,"v":55},{"s":"1.4e","lt":-4.1,"v":58},{"s":"1.4e","lt":-4.05,"v":52},{"s":"1.4e","lt":-4,"v":57},{"s":"1.4e","lt":-3.9,"v":47},{"s":"1.4e","lt":-3.8,"v":56},{"s":"1.4e","lt":-3.7,"v":44},{"s":"1.4e","lt":-3.6,"v":50},{"s":"1.4e","lt":-3.5,"v":40},{"s":"1.4e","lt":-3.4,"v":52},{"s":"1.4e","lt":-3.3,"v":41},{"s":"1.4e","lt":-3.2,"v":46},{"s":"1.4e","lt":-3.1,"v":36},{"s":"1.4e","lt":-3,"v":47},{"s":"1.4e","lt":-2.9,"v":38},{"s":"1.4e","lt":-2.8,"v":42},{"s":"1.4e","lt":-2.7,"v":33},{"s":"1.4e","lt":-2.6,"v":42},
{"s":"1.4","lt":-2.6,"v":42},{"s":"1.4","lt":-2.55,"v":43},{"s":"1.4","lt":-2.5,"v":37},{"s":"1.4","lt":-2.45,"v":41},{"s":"1.4","lt":-2.4,"v":38},{"s":"1.4","lt":-2.35,"v":42},{"s":"1.4","lt":-2.3,"v":34},{"s":"1.4","lt":-2.25,"v":39},{"s":"1.4","lt":-2.2,"v":36},{"s":"1.4","lt":-2.15,"v":38},{"s":"1.4","lt":-2.1,"v":33},{"s":"1.4","lt":-2.05,"v":39},{"s":"1.4","lt":-2,"v":35},{"s":"1.4","lt":-1.95,"v":36},{"s":"1.4","lt":-1.9,"v":33},{"s":"1.4","lt":-1.85,"v":41},{"s":"1.4","lt":-1.8,"v":36},{"s":"1.4","lt":-1.75,"v":39},{"s":"1.4","lt":-1.7,"v":35},{"s":"1.4","lt":-1.65,"v":43},{"s":"1.4","lt":-1.6,"v":37},{"s":"1.4","lt":-1.55,"v":39},{"s":"1.4","lt":-1.5,"v":35},{"s":"1.4","lt":-1.45,"v":41},{"s":"1.4","lt":-1.4,"v":36},{"s":"1.4","lt":-1.35,"v":38},{"s":"1.4","lt":-1.3,"v":34},{"s":"1.4","lt":-1.25,"v":40},{"s":"1.4","lt":-1.2,"v":35},{"s":"1.4","lt":-1.15,"v":36},{"s":"1.4","lt":-1.1,"v":32},{"s":"1.4","lt":-1.05,"v":38},{"s":"1.4","lt":-1,"v":33},{"s":"1.4","lt":-0.95,"v":34},{"s":"1.4","lt":-0.9,"v":30},{"s":"1.4","lt":-0.85,"v":35},{"s":"1.4","lt":-0.8,"v":29},{"s":"1.4","lt":-0.75,"v":31},{"s":"1.4","lt":-0.7,"v":27},{"s":"1.4","lt":-0.65,"v":31},{"s":"1.4","lt":-0.6,"v":25},{"s":"1.4","lt":-0.55,"v":27},{"s":"1.4","lt":-0.5,"v":23},{"s":"1.4","lt":-0.45,"v":26},{"s":"1.4","lt":-0.4,"v":20},{"s":"1.4","lt":-0.35,"v":22},{"s":"1.4","lt":-0.3,"v":17},{"s":"1.4","lt":-0.25,"v":20},{"s":"1.4","lt":-0.2,"v":14},{"s":"1.4","lt":-0.15,"v":15},{"s":"1.4","lt":-0.1,"v":11},{"s":"1.4","lt":-0.05,"v":13},{"s":"1.4","lt":0,"v":9},{"s":"1.4","lt":0.05,"v":10},{"s":"1.4","lt":0.1,"v":6},{"s":"1.4","lt":0.15,"v":7},{"s":"1.4","lt":0.2,"v":3},{"s":"1.4","lt":0.25,"v":3},{"s":"1.4","lt":0.3,"v":1},
{"s":"1.6","lt":-6,"v":84},{"s":"1.6","lt":-5.9,"v":87},{"s":"1.6","lt":-5.8,"v":89},{"s":"1.6","lt":-5.7,"v":91},{"s":"1.6","lt":-5.6,"v":89},{"s":"1.6","lt":-5.5,"v":87},{"s":"1.6","lt":-5.4,"v":88},{"s":"1.6","lt":-5.3,"v":88},{"s":"1.6","lt":-5.2,"v":87},{"s":"1.6","lt":-5.1,"v":86},{"s":"1.6","lt":-5.05,"v":84},{"s":"1.6","lt":-5,"v":79},{"s":"1.6","lt":-4.95,"v":76},{"s":"1.6","lt":-4.9,"v":77},{"s":"1.6","lt":-4.85,"v":74},{"s":"1.6","lt":-4.8,"v":75},{"s":"1.6","lt":-4.75,"v":79},{"s":"1.6","lt":-4.7,"v":72},{"s":"1.6","lt":-4.65,"v":74},{"s":"1.6","lt":-4.6,"v":70},{"s":"1.6","lt":-4.55,"v":72},{"s":"1.6","lt":-4.5,"v":68},{"s":"1.6","lt":-4.45,"v":71},{"s":"1.6","lt":-4.4,"v":64},{"s":"1.6","lt":-4.35,"v":70},{"s":"1.6","lt":-4.3,"v":58},{"s":"1.6","lt":-4.25,"v":66},{"s":"1.6","lt":-4.2,"v":57},{"s":"1.6","lt":-4.15,"v":64},{"s":"1.6","lt":-4.1,"v":55},{"s":"1.6","lt":-4.05,"v":62},{"s":"1.6","lt":-4,"v":54},{"s":"1.6","lt":-3.95,"v":63},{"s":"1.6","lt":-3.9,"v":48},{"s":"1.6","lt":-3.85,"v":57},{"s":"1.6","lt":-3.8,"v":44},{"s":"1.6","lt":-3.75,"v":61},{"s":"1.6","lt":-3.7,"v":52},{"s":"1.6","lt":-3.65,"v":55},{"s":"1.6","lt":-3.6,"v":42},{"s":"1.6","lt":-3.55,"v":60},{"s":"1.6","lt":-3.5,"v":47},{"s":"1.6","lt":-3.45,"v":53},{"s":"1.6","lt":-3.4,"v":40},{"s":"1.6","lt":-3.35,"v":58},{"s":"1.6","lt":-3.3,"v":45},{"s":"1.6","lt":-3.25,"v":51},{"s":"1.6","lt":-3.2,"v":37},{"s":"1.6","lt":-3.15,"v":56},{"s":"1.6","lt":-3.1,"v":43},{"s":"1.6","lt":-3.05,"v":52},{"s":"1.6","lt":-3,"v":36},{"s":"1.6","lt":-2.95,"v":55},{"s":"1.6","lt":-2.9,"v":41},{"s":"1.6","lt":-2.85,"v":49},{"s":"1.6","lt":-2.8,"v":34},{"s":"1.6","lt":-2.75,"v":54},{"s":"1.6","lt":-2.7,"v":40},{"s":"1.6","lt":-2.67,"v":62},{"s":"1.6","lt":-2.64,"v":38},{"s":"1.6","lt":-2.62,"v":52},{"s":"1.6","lt":-2.6,"v":45},{"s":"1.6","lt":-2.55,"v":50},{"s":"1.6","lt":-2.5,"v":44},{"s":"1.6","lt":-2.45,"v":46},{"s":"1.6","lt":-2.4,"v":41},{"s":"1.6","lt":-2.35,"v":48},{"s":"1.6","lt":-2.3,"v":42},{"s":"1.6","lt":-2.25,"v":44},{"s":"1.6","lt":-2.2,"v":39},{"s":"1.6","lt":-2.15,"v":46},{"s":"1.6","lt":-2.1,"v":40},{"s":"1.6","lt":-2.05,"v":42},{"s":"1.6","lt":-2,"v":38},{"s":"1.6","lt":-1.95,"v":45},{"s":"1.6","lt":-1.9,"v":41},{"s":"1.6","lt":-1.85,"v":48},{"s":"1.6","lt":-1.8,"v":42},{"s":"1.6","lt":-1.75,"v":44},{"s":"1.6","lt":-1.7,"v":39},{"s":"1.6","lt":-1.65,"v":49},{"s":"1.6","lt":-1.6,"v":42},{"s":"1.6","lt":-1.55,"v":45},{"s":"1.6","lt":-1.5,"v":40},{"s":"1.6","lt":-1.45,"v":47},{"s":"1.6","lt":-1.4,"v":41},{"s":"1.6","lt":-1.35,"v":43},{"s":"1.6","lt":-1.3,"v":38},{"s":"1.6","lt":-1.25,"v":46},{"s":"1.6","lt":-1.2,"v":39},{"s":"1.6","lt":-1.15,"v":42},{"s":"1.6","lt":-1.1,"v":37},{"s":"1.6","lt":-1.05,"v":44},{"s":"1.6","lt":-1,"v":38},{"s":"1.6","lt":-0.95,"v":40},{"s":"1.6","lt":-0.9,"v":35},{"s":"1.6","lt":-0.85,"v":41},{"s":"1.6","lt":-0.8,"v":35},{"s":"1.6","lt":-0.75,"v":37},{"s":"1.6","lt":-0.7,"v":32},{"s":"1.6","lt":-0.65,"v":38},{"s":"1.6","lt":-0.6,"v":31},{"s":"1.6","lt":-0.55,"v":33},{"s":"1.6","lt":-0.5,"v":28},{"s":"1.6","lt":-0.45,"v":33},{"s":"1.6","lt":-0.4,"v":26},{"s":"1.6","lt":-0.35,"v":28},{"s":"1.6","lt":-0.3,"v":23},{"s":"1.6","lt":-0.25,"v":27},{"s":"1.6","lt":-0.2,"v":20},{"s":"1.6","lt":-0.15,"v":22},{"s":"1.6","lt":-0.1,"v":17},{"s":"1.6","lt":-0.05,"v":21},{"s":"1.6","lt":0,"v":14},{"s":"1.6","lt":0.05,"v":16},{"s":"1.6","lt":0.1,"v":10},{"s":"1.6","lt":0.15,"v":12},{"s":"1.6","lt":0.2,"v":6},{"s":"1.6","lt":0.25,"v":8},{"s":"1.6","lt":0.3,"v":3}
],
"D":[
{"s":"0.5","lt":-6,"v":19.8},{"s":"0.5","lt":-5.8,"v":19.3},{"s":"0.5","lt":-5.6,"v":18.5},{"s":"0.5","lt":-5.5,"v":17},{"s":"0.5","lt":-5.4,"v":15},{"s":"0.5","lt":-5.3,"v":14},{"s":"0.5","lt":-5.2,"v":13},{"s":"0.5","lt":-5.1,"v":12},{"s":"0.5","lt":-5.05,"v":9},{"s":"0.5","lt":-5,"v":6},{"s":"0.5","lt":-4.95,"v":8},{"s":"0.5","lt":-4.9,"v":12},{"s":"0.5","lt":-4.85,"v":11},{"s":"0.5","lt":-4.8,"v":7},{"s":"0.5","lt":-4.75,"v":4},{"s":"0.5","lt":-4.7,"v":6},{"s":"0.5","lt":-4.65,"v":5},{"s":"0.5","lt":-4.6,"v":9},{"s":"0.5","lt":-4.55,"v":6},{"s":"0.5","lt":-4.5,"v":10},{"s":"0.5","lt":-4.45,"v":7},{"s":"0.5","lt":-4.4,"v":1},{"s":"0.5","lt":-4.35,"v":22},{"s":"0.5","lt":-4.3,"v":6},{"s":"0.5","lt":-4.25,"v":9},{"s":"0.5","lt":-4.2,"v":4},{"s":"0.5","lt":-4.15,"v":8},{"s":"0.5","lt":-4.1,"v":5},{"s":"0.5","lt":-4.05,"v":7},{"s":"0.5","lt":-4,"v":3},{"s":"0.5","lt":-3.95,"v":5},{"s":"0.5","lt":-3.9,"v":-6},{"s":"0.5","lt":-3.85,"v":2},{"s":"0.5","lt":-3.8,"v":-1},{"s":"0.5","lt":-3.75,"v":6},{"s":"0.5","lt":-3.7,"v":-7},{"s":"0.5","lt":-3.65,"v":0},{"s":"0.5","lt":-3.6,"v":-3},{"s":"0.5","lt":-3.55,"v":4},{"s":"0.5","lt":-3.5,"v":-8},{"s":"0.5","lt":-3.45,"v":1},{"s":"0.5","lt":-3.4,"v":-4},{"s":"0.5","lt":-3.3,"v":2},{"s":"0.5","lt":-3.2,"v":-6},{"s":"0.5","lt":-3.1,"v":-1},{"s":"0.5","lt":-3,"v":-8},{"s":"0.5","lt":-2.9,"v":-2},{"s":"0.5","lt":-2.8,"v":-5},{"s":"0.5","lt":-2.7,"v":-3},{"s":"0.5","lt":-2.6,"v":-1},{"s":"0.5","lt":-2.55,"v":3},{"s":"0.5","lt":-2.5,"v":-1},{"s":"0.5","lt":-2.45,"v":4},{"s":"0.5","lt":-2.4,"v":0},{"s":"0.5","lt":-2.35,"v":3},{"s":"0.5","lt":-2.3,"v":-4},{"s":"0.5","lt":-2.25,"v":1},{"s":"0.5","lt":-2.2,"v":-5},{"s":"0.5","lt":-2.15,"v":-1},{"s":"0.5","lt":-2.1,"v":-6},{"s":"0.5","lt":-2.05,"v":-11.5},{"s":"0.5","lt":-2,"v":-3},{"s":"0.5","lt":-1.95,"v":-6},{"s":"0.5","lt":-1.9,"v":-1},{"s":"0.5","lt":-1.85,"v":-5},{"s":"0.5","lt":-1.8,"v":0},{"s":"0.5","lt":-1.7,"v":-4},{"s":"0.5","lt":-1.6,"v":1},{"s":"0.5","lt":-1.5,"v":-3},{"s":"0.5","lt":-1.4,"v":2},{"s":"0.5","lt":-1.3,"v":-2},{"s":"0.5","lt":-1.2,"v":3},{"s":"0.5","lt":-1.1,"v":0},{"s":"0.5","lt":-1,"v":4},{"s":"0.5","lt":-0.9,"v":1},{"s":"0.5","lt":-0.8,"v":3},{"s":"0.5","lt":-0.7,"v":0},{"s":"0.5","lt":-0.6,"v":2},{"s":"0.5","lt":-0.5,"v":-2},{"s":"0.5","lt":-0.4,"v":1},{"s":"0.5","lt":-0.3,"v":-3},{"s":"0.5","lt":-0.2,"v":0},{"s":"0.5","lt":-0.1,"v":-4},{"s":"0.5","lt":0,"v":-2},{"s":"0.5","lt":0.1,"v":-4},
{"s":"0.8","lt":-6,"v":31},{"s":"0.8","lt":-5.9,"v":31},{"s":"0.8","lt":-5.8,"v":30.5},{"s":"0.8","lt":-5.7,"v":30.5},{"s":"0.8","lt":-5.6,"v":29},{"s":"0.8","lt":-5.5,"v":28},{"s":"0.8","lt":-5.4,"v":27},{"s":"0.8","lt":-5.3,"v":25},{"s":"0.8","lt":-5.2,"v":24},{"s":"0.8","lt":-5.1,"v":23},{"s":"0.8","lt":-5.05,"v":17},{"s":"0.8","lt":-5,"v":12},{"s":"0.8","lt":-4.95,"v":14},{"s":"0.8","lt":-4.9,"v":17},{"s":"0.8","lt":-4.85,"v":18},{"s":"0.8","lt":-4.8,"v":16},{"s":"0.8","lt":-4.75,"v":19},{"s":"0.8","lt":-4.7,"v":20},{"s":"0.8","lt":-4.65,"v":16},{"s":"0.8","lt":-4.6,"v":9},{"s":"0.8","lt":-4.55,"v":13},{"s":"0.8","lt":-4.5,"v":11},{"s":"0.8","lt":-4.45,"v":14},{"s":"0.8","lt":-4.4,"v":8},{"s":"0.8","lt":-4.35,"v":13},{"s":"0.8","lt":-4.3,"v":9},{"s":"0.8","lt":-4.25,"v":16},{"s":"0.8","lt":-4.2,"v":10},{"s":"0.8","lt":-4.15,"v":14},{"s":"0.8","lt":-4.1,"v":6},{"s":"0.8","lt":-4.05,"v":15},{"s":"0.8","lt":-4,"v":12},{"s":"0.8","lt":-3.95,"v":18},{"s":"0.8","lt":-3.9,"v":2},{"s":"0.8","lt":-3.85,"v":11},{"s":"0.8","lt":-3.8,"v":-3},{"s":"0.8","lt":-3.75,"v":15},{"s":"0.8","lt":-3.7,"v":5},{"s":"0.8","lt":-3.65,"v":9},{"s":"0.8","lt":-3.6,"v":-4},{"s":"0.8","lt":-3.55,"v":16},{"s":"0.8","lt":-3.5,"v":3},{"s":"0.8","lt":-3.45,"v":8},{"s":"0.8","lt":-3.4,"v":-6},{"s":"0.8","lt":-3.35,"v":12},{"s":"0.8","lt":-3.3,"v":1},{"s":"0.8","lt":-3.25,"v":6},{"s":"0.8","lt":-3.2,"v":-7},{"s":"0.8","lt":-3.15,"v":14},{"s":"0.8","lt":-3.1,"v":0},{"s":"0.8","lt":-3.05,"v":7},{"s":"0.8","lt":-3,"v":-5},{"s":"0.8","lt":-2.95,"v":11},{"s":"0.8","lt":-2.9,"v":-2},{"s":"0.8","lt":-2.85,"v":4},{"s":"0.8","lt":-2.8,"v":-8},{"s":"0.8","lt":-2.75,"v":10},{"s":"0.8","lt":-2.7,"v":-3},{"s":"0.8","lt":-2.65,"v":5},{"s":"0.8","lt":-2.62,"v":-11},{"s":"0.8","lt":-2.6,"v":2},{"s":"0.8","lt":-2.55,"v":5},{"s":"0.8","lt":-2.5,"v":-1},{"s":"0.8","lt":-2.45,"v":3},{"s":"0.8","lt":-2.4,"v":0},{"s":"0.8","lt":-2.35,"v":4},{"s":"0.8","lt":-2.3,"v":-3},{"s":"0.8","lt":-2.25,"v":6},{"s":"0.8","lt":-2.2,"v":1},{"s":"0.8","lt":-2.15,"v":3},{"s":"0.8","lt":-2.1,"v":-2},{"s":"0.8","lt":-2.05,"v":5},{"s":"0.8","lt":-2,"v":-3},{"s":"0.8","lt":-1.95,"v":2},{"s":"0.8","lt":-1.9,"v":-1},{"s":"0.8","lt":-1.85,"v":5},{"s":"0.8","lt":-1.8,"v":-3},{"s":"0.8","lt":-1.75,"v":1},{"s":"0.8","lt":-1.7,"v":-4},{"s":"0.8","lt":-1.65,"v":3},{"s":"0.8","lt":-1.6,"v":0},{"s":"0.8","lt":-1.55,"v":4},{"s":"0.8","lt":-1.5,"v":-3},{"s":"0.8","lt":-1.45,"v":1},{"s":"0.8","lt":-1.4,"v":-5},{"s":"0.8","lt":-1.35,"v":2},{"s":"0.8","lt":-1.3,"v":-1},{"s":"0.8","lt":-1.25,"v":3},{"s":"0.8","lt":-1.2,"v":-5},{"s":"0.8","lt":-1.15,"v":0},{"s":"0.8","lt":-1.1,"v":-3},{"s":"0.8","lt":-1.05,"v":3},{"s":"0.8","lt":-1,"v":-5},{"s":"0.8","lt":-0.95,"v":-1},{"s":"0.8","lt":-0.9,"v":-6},{"s":"0.8","lt":-0.85,"v":2},{"s":"0.8","lt":-0.8,"v":-3},{"s":"0.8","lt":-0.75,"v":-1},{"s":"0.8","lt":-0.7,"v":-7},{"s":"0.8","lt":-0.65,"v":1},{"s":"0.8","lt":-0.6,"v":-4},{"s":"0.8","lt":-0.55,"v":-1},{"s":"0.8","lt":-0.5,"v":-6},{"s":"0.8","lt":-0.45,"v":0},{"s":"0.8","lt":-0.4,"v":-5},{"s":"0.8","lt":-0.35,"v":-2},{"s":"0.8","lt":-0.3,"v":-7},{"s":"0.8","lt":-0.25,"v":-2},{"s":"0.8","lt":-0.2,"v":-5},{"s":"0.8","lt":-0.15,"v":-1},{"s":"0.8","lt":-0.1,"v":-7},{"s":"0.8","lt":-0.05,"v":-3},{"s":"0.8","lt":0,"v":-6},{"s":"0.8","lt":0.1,"v":-2},{"s":"0.8","lt":0.2,"v":-7},{"s":"0.8","lt":0.3,"v":-4},
{"s":"1.1","lt":-6,"v":35.5},{"s":"1.1","lt":-5.9,"v":37},{"s":"1.1","lt":-5.8,"v":38.5},{"s":"1.1","lt":-5.7,"v":39},{"s":"1.1","lt":-5.6,"v":39.5},{"s":"1.1","lt":-5.5,"v":41},{"s":"1.1","lt":-5.4,"v":43},{"s":"1.1","lt":-5.3,"v":43.5},{"s":"1.1","lt":-5.25,"v":42.5},{"s":"1.1","lt":-5.2,"v":43},{"s":"1.1","lt":-5.1,"v":41},{"s":"1.1","lt":-5,"v":39},{"s":"1.1","lt":-4.95,"v":40},{"s":"1.1","lt":-4.9,"v":41.5},{"s":"1.1","lt":-4.85,"v":42.5},{"s":"1.1","lt":-4.8,"v":39},{"s":"1.1","lt":-4.75,"v":36},{"s":"1.1","lt":-4.7,"v":34},{"s":"1.1","lt":-4.65,"v":35},{"s":"1.1","lt":-4.6,"v":33},{"s":"1.1","lt":-4.55,"v":36},{"s":"1.1","lt":-4.5,"v":32},{"s":"1.1","lt":-4.45,"v":35},{"s":"1.1","lt":-4.4,"v":33},{"s":"1.1","lt":-4.35,"v":37},{"s":"1.1","lt":-4.3,"v":31},{"s":"1.1","lt":-4.25,"v":34},{"s":"1.1","lt":-4.2,"v":30},{"s":"1.1","lt":-4.15,"v":35},{"s":"1.1","lt":-4.1,"v":29},{"s":"1.1","lt":-4.05,"v":34},{"s":"1.1","lt":-4,"v":28},{"s":"1.1","lt":-3.95,"v":36},{"s":"1.1","lt":-3.9,"v":27},{"s":"1.1","lt":-3.85,"v":32},{"s":"1.1","lt":-3.8,"v":24},{"s":"1.1","lt":-3.75,"v":37},{"s":"1.1","lt":-3.7,"v":28},{"s":"1.1","lt":-3.65,"v":31},{"s":"1.1","lt":-3.6,"v":22},{"s":"1.1","lt":-3.55,"v":34},{"s":"1.1","lt":-3.5,"v":25},{"s":"1.1","lt":-3.45,"v":29},{"s":"1.1","lt":-3.4,"v":19},{"s":"1.1","lt":-3.35,"v":32},{"s":"1.1","lt":-3.3,"v":22},{"s":"1.1","lt":-3.25,"v":26},{"s":"1.1","lt":-3.2,"v":16},{"s":"1.1","lt":-3.15,"v":30},{"s":"1.1","lt":-3.1,"v":19},{"s":"1.1","lt":-3.05,"v":24},{"s":"1.1","lt":-3,"v":13},{"s":"1.1","lt":-2.95,"v":27},{"s":"1.1","lt":-2.9,"v":17},{"s":"1.1","lt":-2.85,"v":21},{"s":"1.1","lt":-2.8,"v":11},{"s":"1.1","lt":-2.75,"v":25},{"s":"1.1","lt":-2.7,"v":15},{"s":"1.1","lt":-2.65,"v":20},{"s":"1.1","lt":-2.6,"v":18},{"s":"1.1","lt":-2.55,"v":24},{"s":"1.1","lt":-2.5,"v":17},{"s":"1.1","lt":-2.45,"v":21},{"s":"1.1","lt":-2.4,"v":18},{"s":"1.1","lt":-2.35,"v":25},{"s":"1.1","lt":-2.3,"v":16},{"s":"1.1","lt":-2.25,"v":20},{"s":"1.1","lt":-2.2,"v":15},{"s":"1.1","lt":-2.15,"v":24},{"s":"1.1","lt":-2.1,"v":17},{"s":"1.1","lt":-2.05,"v":19},{"s":"1.1","lt":-2,"v":14},{"s":"1.1","lt":-1.95,"v":23},{"s":"1.1","lt":-1.9,"v":16},{"s":"1.1","lt":-1.85,"v":18},{"s":"1.1","lt":-1.8,"v":13},{"s":"1.1","lt":-1.75,"v":22},{"s":"1.1","lt":-1.7,"v":15},{"s":"1.1","lt":-1.65,"v":17},{"s":"1.1","lt":-1.6,"v":12},{"s":"1.1","lt":-1.55,"v":20},{"s":"1.1","lt":-1.5,"v":13},{"s":"1.1","lt":-1.45,"v":15},{"s":"1.1","lt":-1.4,"v":10},{"s":"1.1","lt":-1.35,"v":17},{"s":"1.1","lt":-1.3,"v":11},{"s":"1.1","lt":-1.25,"v":13},{"s":"1.1","lt":-1.2,"v":9},{"s":"1.1","lt":-1.15,"v":16},{"s":"1.1","lt":-1.1,"v":10},{"s":"1.1","lt":-1.05,"v":12},{"s":"1.1","lt":-1,"v":8},{"s":"1.1","lt":-0.95,"v":14},{"s":"1.1","lt":-0.9,"v":8},{"s":"1.1","lt":-0.85,"v":10},{"s":"1.1","lt":-0.8,"v":6},{"s":"1.1","lt":-0.75,"v":13},{"s":"1.1","lt":-0.7,"v":7},{"s":"1.1","lt":-0.65,"v":9},{"s":"1.1","lt":-0.6,"v":5},{"s":"1.1","lt":-0.55,"v":12},{"s":"1.1","lt":-0.5,"v":6},{"s":"1.1","lt":-0.45,"v":8},{"s":"1.1","lt":-0.4,"v":3},{"s":"1.1","lt":-0.35,"v":9},{"s":"1.1","lt":-0.3,"v":4},{"s":"1.1","lt":-0.25,"v":5},{"s":"1.1","lt":-0.2,"v":1},{"s":"1.1","lt":-0.15,"v":6},{"s":"1.1","lt":-0.1,"v":1},{"s":"1.1","lt":-0.05,"v":2},{"s":"1.1","lt":0,"v":-2},{"s":"1.1","lt":0.05,"v":3},{"s":"1.1","lt":0.1,"v":-2},{"s":"1.1","lt":0.15,"v":0},{"s":"1.1","lt":0.2,"v":-4},{"s":"1.1","lt":0.25,"v":0},{"s":"1.1","lt":0.3,"v":-3},
{"s":"1.4","lt":-6,"v":44},{"s":"1.4","lt":-5.9,"v":44.5},{"s":"1.4","lt":-5.8,"v":45},{"s":"1.4","lt":-5.7,"v":44.5},{"s":"1.4","lt":-5.6,"v":43},{"s":"1.4","lt":-5.5,"v":42},{"s":"1.4","lt":-5.4,"v":41.5},{"s":"1.4","lt":-5.3,"v":41},{"s":"1.4","lt":-5.2,"v":40},{"s":"1.4","lt":-5.1,"v":38},{"s":"1.4","lt":-5.05,"v":35},{"s":"1.4","lt":-5,"v":33},{"s":"1.4","lt":-4.95,"v":31},{"s":"1.4","lt":-4.9,"v":35},{"s":"1.4","lt":-4.86,"v":40},{"s":"1.4","lt":-4.8,"v":36},{"s":"1.4","lt":-4.75,"v":33},{"s":"1.4","lt":-4.7,"v":35},{"s":"1.4","lt":-4.65,"v":32},{"s":"1.4","lt":-4.6,"v":36},{"s":"1.4","lt":-4.55,"v":31},{"s":"1.4","lt":-4.5,"v":30},{"s":"1.4","lt":-4.45,"v":33},{"s":"1.4","lt":-4.4,"v":28},{"s":"1.4","lt":-4.35,"v":30},{"s":"1.4","lt":-4.3,"v":26},{"s":"1.4","lt":-4.25,"v":29},{"s":"1.4","lt":-4.2,"v":24},{"s":"1.4","lt":-4.15,"v":28},{"s":"1.4","lt":-4.1,"v":23},{"s":"1.4","lt":-4.05,"v":27},{"s":"1.4","lt":-4,"v":23},{"s":"1.4","lt":-3.9,"v":17},{"s":"1.4","lt":-3.8,"v":27},{"s":"1.4","lt":-3.7,"v":20},{"s":"1.4","lt":-3.6,"v":25},{"s":"1.4","lt":-3.5,"v":13},{"s":"1.4","lt":-3.4,"v":29},{"s":"1.4","lt":-3.3,"v":19},{"s":"1.4","lt":-3.2,"v":26},{"s":"1.4","lt":-3.1,"v":15},{"s":"1.4","lt":-3,"v":31},{"s":"1.4","lt":-2.9,"v":21},{"s":"1.4","lt":-2.8,"v":28},{"s":"1.4","lt":-2.7,"v":19},{"s":"1.4","lt":-2.6,"v":26},{"s":"1.4","lt":-2.5,"v":30},{"s":"1.4","lt":-2.4,"v":24},{"s":"1.4","lt":-2.3,"v":29},{"s":"1.4","lt":-2.2,"v":27},{"s":"1.4","lt":-2.1,"v":32},{"s":"1.4","lt":-2,"v":24},{"s":"1.4","lt":-1.9,"v":28},{"s":"1.4","lt":-1.8,"v":26},{"s":"1.4","lt":-1.7,"v":30},{"s":"1.4","lt":-1.6,"v":22},{"s":"1.4","lt":-1.5,"v":27},{"s":"1.4","lt":-1.4,"v":24},{"s":"1.4","lt":-1.3,"v":30},{"s":"1.4","lt":-1.2,"v":23},{"s":"1.4","lt":-1.1,"v":28},{"s":"1.4","lt":-1,"v":25},{"s":"1.4","lt":-0.9,"v":29},{"s":"1.4","lt":-0.8,"v":21},{"s":"1.4","lt":-0.7,"v":26},{"s":"1.4","lt":-0.6,"v":21},{"s":"1.4","lt":-0.5,"v":24},{"s":"1.4","lt":-0.4,"v":16},{"s":"1.4","lt":-0.3,"v":20},{"s":"1.4","lt":-0.2,"v":14},{"s":"1.4","lt":-0.1,"v":16},{"s":"1.4","lt":0,"v":10},{"s":"1.4","lt":0.1,"v":11},{"s":"1.4","lt":0.2,"v":5},{"s":"1.4","lt":0.3,"v":2},
{"s":"1.6","lt":-6,"v":44},{"s":"1.6","lt":-5.8,"v":44},{"s":"1.6","lt":-5.6,"v":44},{"s":"1.6","lt":-5.5,"v":43},{"s":"1.6","lt":-5.4,"v":42},{"s":"1.6","lt":-5.3,"v":42.5},{"s":"1.6","lt":-5.2,"v":42},{"s":"1.6","lt":-5.1,"v":41},{"s":"1.6","lt":-5.05,"v":38},{"s":"1.6","lt":-5,"v":37},{"s":"1.6","lt":-4.95,"v":39},{"s":"1.6","lt":-4.9,"v":42},{"s":"1.6","lt":-4.85,"v":42.5},{"s":"1.6","lt":-4.8,"v":38},{"s":"1.6","lt":-4.75,"v":35},{"s":"1.6","lt":-4.7,"v":37},{"s":"1.6","lt":-4.65,"v":36},{"s":"1.6","lt":-4.6,"v":39},{"s":"1.6","lt":-4.55,"v":37},{"s":"1.6","lt":-4.5,"v":34},{"s":"1.6","lt":-4.45,"v":35},{"s":"1.6","lt":-4.4,"v":30},{"s":"1.6","lt":-4.35,"v":33},{"s":"1.6","lt":-4.3,"v":29},{"s":"1.6","lt":-4.25,"v":34},{"s":"1.6","lt":-4.2,"v":28},{"s":"1.6","lt":-4.15,"v":32},{"s":"1.6","lt":-4.1,"v":26},{"s":"1.6","lt":-4.05,"v":31},{"s":"1.6","lt":-4,"v":25},{"s":"1.6","lt":-3.95,"v":34},{"s":"1.6","lt":-3.9,"v":22},{"s":"1.6","lt":-3.85,"v":30},{"s":"1.6","lt":-3.8,"v":18},{"s":"1.6","lt":-3.75,"v":36},{"s":"1.6","lt":-3.7,"v":25},{"s":"1.6","lt":-3.65,"v":33},{"s":"1.6","lt":-3.6,"v":20},{"s":"1.6","lt":-3.55,"v":38},{"s":"1.6","lt":-3.5,"v":27},{"s":"1.6","lt":-3.45,"v":31},{"s":"1.6","lt":-3.4,"v":21},{"s":"1.6","lt":-3.35,"v":41},{"s":"1.6","lt":-3.3,"v":28},{"s":"1.6","lt":-3.25,"v":35},{"s":"1.6","lt":-3.2,"v":22},{"s":"1.6","lt":-3.15,"v":40},{"s":"1.6","lt":-3.1,"v":30},{"s":"1.6","lt":-3.05,"v":34},{"s":"1.6","lt":-3,"v":23},{"s":"1.6","lt":-2.95,"v":43},{"s":"1.6","lt":-2.9,"v":29},{"s":"1.6","lt":-2.85,"v":37},{"s":"1.6","lt":-2.8,"v":26},{"s":"1.6","lt":-2.78,"v":45},{"s":"1.6","lt":-2.75,"v":28},{"s":"1.6","lt":-2.7,"v":41},{"s":"1.6","lt":-2.65,"v":25},{"s":"1.6","lt":-2.62,"v":40},{"s":"1.6","lt":-2.6,"v":31},{"s":"1.6","lt":-2.55,"v":39},{"s":"1.6","lt":-2.5,"v":31},{"s":"1.6","lt":-2.45,"v":36},{"s":"1.6","lt":-2.4,"v":28},{"s":"1.6","lt":-2.35,"v":42},{"s":"1.6","lt":-2.3,"v":33},{"s":"1.6","lt":-2.25,"v":37},{"s":"1.6","lt":-2.2,"v":29},{"s":"1.6","lt":-2.15,"v":41},{"s":"1.6","lt":-2.1,"v":32},{"s":"1.6","lt":-2.05,"v":38},{"s":"1.6","lt":-2,"v":28},{"s":"1.6","lt":-1.95,"v":42},{"s":"1.6","lt":-1.9,"v":31},{"s":"1.6","lt":-1.85,"v":36},{"s":"1.6","lt":-1.8,"v":27},{"s":"1.6","lt":-1.75,"v":40},{"s":"1.6","lt":-1.7,"v":30},{"s":"1.6","lt":-1.65,"v":35},{"s":"1.6","lt":-1.6,"v":26},{"s":"1.6","lt":-1.55,"v":39},{"s":"1.6","lt":-1.5,"v":29},{"s":"1.6","lt":-1.45,"v":34},{"s":"1.6","lt":-1.4,"v":25},{"s":"1.6","lt":-1.35,"v":38},{"s":"1.6","lt":-1.3,"v":28},{"s":"1.6","lt":-1.25,"v":32},{"s":"1.6","lt":-1.2,"v":25},{"s":"1.6","lt":-1.15,"v":36},{"s":"1.6","lt":-1.1,"v":27},{"s":"1.6","lt":-1.05,"v":31},{"s":"1.6","lt":-1,"v":24},{"s":"1.6","lt":-0.95,"v":35},{"s":"1.6","lt":-0.9,"v":26},{"s":"1.6","lt":-0.85,"v":30},{"s":"1.6","lt":-0.8,"v":22},{"s":"1.6","lt":-0.75,"v":33},{"s":"1.6","lt":-0.7,"v":24},{"s":"1.6","lt":-0.65,"v":28},{"s":"1.6","lt":-0.6,"v":20},{"s":"1.6","lt":-0.55,"v":31},{"s":"1.6","lt":-0.5,"v":21},{"s":"1.6","lt":-0.45,"v":25},{"s":"1.6","lt":-0.4,"v":17},{"s":"1.6","lt":-0.35,"v":27},{"s":"1.6","lt":-0.3,"v":18},{"s":"1.6","lt":-0.25,"v":21},{"s":"1.6","lt":-0.2,"v":14},{"s":"1.6","lt":-0.15,"v":22},{"s":"1.6","lt":-0.1,"v":13},{"s":"1.6","lt":-0.05,"v":16},{"s":"1.6","lt":0,"v":10},{"s":"1.6","lt":0.05,"v":15},{"s":"1.6","lt":0.1,"v":8},{"s":"1.6","lt":0.15,"v":10},{"s":"1.6","lt":0.2,"v":4},{"s":"1.6","lt":0.25,"v":7},{"s":"1.6","lt":0.3,"v":2}
]
},
"concat":[
{
 "width":337,"height":244,
 "title":{"text":"A","dx":-76,"offset":-20},
 "layer":[
  {"data":{"values":[{}]},"mark":{"type":"rule","color":"#000","strokeWidth":1},"encoding":{"y":{"datum":0,"type":"quantitative","scale":{"domain":[-27,710],"nice":false,"zero":false},"axis":{"values":[0,100,200,300,400,500,600,700],"title":"ΔOD (µOD)"}}}},
  {"data":{"name":"A"},"mark":{"type":"line","strokeWidth":1.5,"clip":true},"encoding":{
   "x":{"field":"lt","type":"quantitative","scale":{"domain":[-6.05,0.34],"nice":false,"zero":false},"axis":{"values":[-6,-5,-4,-3,-2,-1,0],"labels":false,"title":null,"tickSize":8,"offset":-4}},
   "y":{"field":"v","type":"quantitative","scale":{"domain":[-27,710],"nice":false,"zero":false},"axis":{"values":[0,100,200,300,400,500,600,700],"title":"ΔOD (µOD)"}},
   "color":{"field":"s","type":"nominal","scale":{"domain":["0.5","0.8","1.1","1.4","1.4e","1.6"],"range":["#000000","#1010ff","#1fbf1f","#ffa320","#c8862e","#ff0000"]},"legend":null}}},
  {"data":{"values":[{"lt":-5.79,"v":15,"lt2":-2.619,"v2":622.8}]},"mark":{"type":"rule","color":"#6e6e6e","strokeWidth":1.2},"encoding":{
   "x":{"field":"lt","type":"quantitative","scale":{"domain":[-6.05,0.34],"nice":false,"zero":false},"axis":{"values":[-6,-5,-4,-3,-2,-1,0],"labels":false,"title":null,"tickSize":8,"offset":-4}},
   "y":{"field":"v","type":"quantitative","scale":{"domain":[-27,710],"nice":false,"zero":false},"axis":{"values":[0,100,200,300,400,500,600,700],"title":"ΔOD (µOD)"}},
   "x2":{"field":"lt2"},"y2":{"field":"v2"}}},
  {"data":{"values":[{"lt":-2.619,"v":622.8}]},"mark":{"type":"point","shape":"triangle-up","angle":40,"size":60,"filled":true,"color":"#6e6e6e","opacity":1},"encoding":{
   "x":{"field":"lt","type":"quantitative","scale":{"domain":[-6.05,0.34],"nice":false,"zero":false},"axis":{"values":[-6,-5,-4,-3,-2,-1,0],"labels":false,"title":null,"tickSize":8,"offset":-4}},
   "y":{"field":"v","type":"quantitative","scale":{"domain":[-27,710],"nice":false,"zero":false},"axis":{"values":[0,100,200,300,400,500,600,700],"title":"ΔOD (µOD)"}}}},
  {"data":{"name":"labA"},"mark":{"type":"text","font":"Lato","fontSize":14,"align":"left","baseline":"alphabetic"},"encoding":{
   "x":{"field":"lt","type":"quantitative","scale":{"domain":[-6.05,0.34],"nice":false,"zero":false},"axis":{"values":[-6,-5,-4,-3,-2,-1,0],"labels":false,"title":null,"tickSize":8,"offset":-4}},
   "y":{"field":"v","type":"quantitative","scale":{"domain":[-27,710],"nice":false,"zero":false},"axis":{"values":[0,100,200,300,400,500,600,700],"title":"ΔOD (µOD)"}},
   "text":{"field":"text"},
   "color":{"field":"s","type":"nominal","scale":{"domain":["0.5","0.8","1.1","1.4","1.4e","1.6"],"range":["#000000","#1010ff","#1fbf1f","#ffa320","#c8862e","#ff0000"]},"legend":null}}},
  {"data":{"name":"subA"},"mark":{"type":"text","font":"Lato","fontSize":9.5,"align":"left","baseline":"alphabetic"},"encoding":{
   "x":{"field":"lt","type":"quantitative","scale":{"domain":[-6.05,0.34],"nice":false,"zero":false},"axis":{"values":[-6,-5,-4,-3,-2,-1,0],"labels":false,"title":null,"tickSize":8,"offset":-4}},
   "y":{"field":"v","type":"quantitative","scale":{"domain":[-27,710],"nice":false,"zero":false},"axis":{"values":[0,100,200,300,400,500,600,700],"title":"ΔOD (µOD)"}},
   "text":{"field":"text"},
   "color":{"field":"s","type":"nominal","scale":{"domain":["0.5","0.8","1.1","1.4","1.4e","1.6"],"range":["#000000","#1010ff","#1fbf1f","#ffa320","#c8862e","#ff0000"]},"legend":null}}},
  {"data":{"values":[{"lt":-0.716,"v":648,"text":"Fe₂O₃\n(APCVD)"}]},"mark":{"type":"text","font":"Lato","fontSize":14,"align":"center","baseline":"alphabetic","lineBreak":"\n","lineHeight":20,"color":"#333"},"encoding":{
   "x":{"field":"lt","type":"quantitative","scale":{"domain":[-6.05,0.34],"nice":false,"zero":false},"axis":{"values":[-6,-5,-4,-3,-2,-1,0],"labels":false,"title":null,"tickSize":8,"offset":-4}},
   "y":{"field":"v","type":"quantitative","scale":{"domain":[-27,710],"nice":false,"zero":false},"axis":{"values":[0,100,200,300,400,500,600,700],"title":"ΔOD (µOD)"}},
   "text":{"field":"text"}}}
 ]
},
{
 "width":337,"height":244,
 "title":{"text":"B","dx":-54,"offset":-20},
 "layer":[
  {"data":{"values":[{}]},"mark":{"type":"rule","color":"#000","strokeWidth":1},"encoding":{"y":{"datum":0,"type":"quantitative","scale":{"domain":[-22,576],"nice":false,"zero":false},"axis":{"values":[0,100,200,300,400,500],"title":null}}}},
  {"data":{"name":"B"},"mark":{"type":"line","strokeWidth":1.5,"clip":true},"encoding":{
   "x":{"field":"lt","type":"quantitative","scale":{"domain":[-6.05,0.34],"nice":false,"zero":false},"axis":{"values":[-6,-5,-4,-3,-2,-1,0],"labels":false,"title":null,"tickSize":8,"offset":-4}},
   "y":{"field":"v","type":"quantitative","scale":{"domain":[-22,576],"nice":false,"zero":false},"axis":{"values":[0,100,200,300,400,500],"title":null}},
   "color":{"field":"s","type":"nominal","scale":{"domain":["0.5","0.8","1.1","1.4","1.4e","1.6"],"range":["#000000","#1010ff","#1fbf1f","#ffa320","#c8862e","#ff0000"]},"legend":null}}},
  {"data":{"values":[{"lt":-0.687,"v":524,"text":"Fe₂O₃/CoOₓ"}]},"mark":{"type":"text","font":"Lato","fontSize":14,"align":"center","baseline":"alphabetic","color":"#333"},"encoding":{
   "x":{"field":"lt","type":"quantitative","scale":{"domain":[-6.05,0.34],"nice":false,"zero":false},"axis":{"values":[-6,-5,-4,-3,-2,-1,0],"labels":false,"title":null,"tickSize":8,"offset":-4}},
   "y":{"field":"v","type":"quantitative","scale":{"domain":[-22,576],"nice":false,"zero":false},"axis":{"values":[0,100,200,300,400,500],"title":null}},
   "text":{"field":"text"}}}
 ]
},
{
 "width":337,"height":245,
 "title":{"text":"C","dx":-75,"offset":-19},
 "resolve":{"axis":{"x":"independent"}},
 "layer":[
  {"data":{"values":[{}]},"mark":{"type":"rule","color":"#8a8a8a","strokeWidth":1},"encoding":{"y":{"datum":0,"type":"quantitative","scale":{"domain":[-13.8,106.9],"nice":false,"zero":false},"axis":{"values":[0,20,40,60,80,100],"title":"ΔOD (µOD)"}}}},
  {"data":{"name":"C"},"mark":{"type":"line","strokeWidth":1.7,"clip":true},"encoding":{
   "x":{"field":"lt","type":"quantitative","scale":{"domain":[-6.05,0.34],"nice":false,"zero":false},"axis":{"values":[-6,-5,-4,-3,-2,-1,0],"title":"Time (s)","titleFontSize":15.5,"tickSize":8,"offset":-4,"labelPadding":10,"titlePadding":3,"labelExpr":"'10' + ['⁻⁶','⁻⁵','⁻⁴','⁻³','⁻²','⁻¹','⁰'][datum.value + 6]"}},
   "y":{"field":"v","type":"quantitative","scale":{"domain":[-13.8,106.9],"nice":false,"zero":false},"axis":{"values":[0,20,40,60,80,100],"title":"ΔOD (µOD)"}},
   "color":{"field":"s","type":"nominal","scale":{"domain":["0.5","0.8","1.1","1.4","1.4e","1.6"],"range":["#000000","#1010ff","#1fbf1f","#ffa320","#c8862e","#ff0000"]},"legend":null}}},
  {"data":{"values":[{"lt":-0.42,"v":94,"text":"Fe₂O₃\n(USP)"}]},"mark":{"type":"text","font":"Lato","fontSize":14,"align":"center","baseline":"alphabetic","lineBreak":"\n","lineHeight":19,"color":"#333"},"encoding":{
   "x":{"field":"lt","type":"quantitative","scale":{"domain":[-6.05,0.34],"nice":false,"zero":false},"axis":{"orient":"top","values":[-6,-5,-4,-3,-2,-1,0],"labels":false,"title":null,"tickSize":8,"offset":-4}},
   "y":{"field":"v","type":"quantitative","scale":{"domain":[-13.8,106.9],"nice":false,"zero":false},"axis":{"values":[0,20,40,60,80,100],"title":"ΔOD (µOD)"}},
   "text":{"field":"text"}}}
 ]
},
{
 "width":337,"height":244,
 "title":{"text":"D","dx":-56,"offset":-19},
 "resolve":{"axis":{"x":"independent"}},
 "layer":[
  {"data":{"values":[{}]},"mark":{"type":"rule","color":"#000","strokeWidth":1},"encoding":{"y":{"datum":0,"type":"quantitative","scale":{"domain":[-15.8,66],"nice":false,"zero":false},"axis":{"values":[0,20,40,60],"title":null}}}},
  {"data":{"name":"D"},"mark":{"type":"line","strokeWidth":1.7,"clip":true},"encoding":{
   "x":{"field":"lt","type":"quantitative","scale":{"domain":[-6.05,0.34],"nice":false,"zero":false},"axis":{"values":[-6,-5,-4,-3,-2,-1,0],"title":"Time (s)","titleFontSize":15.5,"tickSize":8,"offset":-4,"labelPadding":10,"titlePadding":3,"labelExpr":"'10' + ['⁻⁶','⁻⁵','⁻⁴','⁻³','⁻²','⁻¹','⁰'][datum.value + 6]"}},
   "y":{"field":"v","type":"quantitative","scale":{"domain":[-15.8,66],"nice":false,"zero":false},"axis":{"values":[0,20,40,60],"title":null}},
   "color":{"field":"s","type":"nominal","scale":{"domain":["0.5","0.8","1.1","1.4","1.4e","1.6"],"range":["#000000","#1010ff","#1fbf1f","#ffa320","#c8862e","#ff0000"]},"legend":null}}},
  {"data":{"values":[{"lt":-0.82,"v":58.4,"text":"Fe₂O₃/Ga₂O₃"}]},"mark":{"type":"text","font":"Lato","fontSize":14,"align":"center","baseline":"alphabetic","color":"#333"},"encoding":{
   "x":{"field":"lt","type":"quantitative","scale":{"domain":[-6.05,0.34],"nice":false,"zero":false},"axis":{"orient":"top","values":[-6,-5,-4,-3,-2,-1,0],"labels":false,"title":null,"tickSize":8,"offset":-4}},
   "y":{"field":"v","type":"quantitative","scale":{"domain":[-15.8,66],"nice":false,"zero":false},"axis":{"values":[0,20,40,60],"title":null}},
   "text":{"field":"text"}}}
 ]
}
]
}
